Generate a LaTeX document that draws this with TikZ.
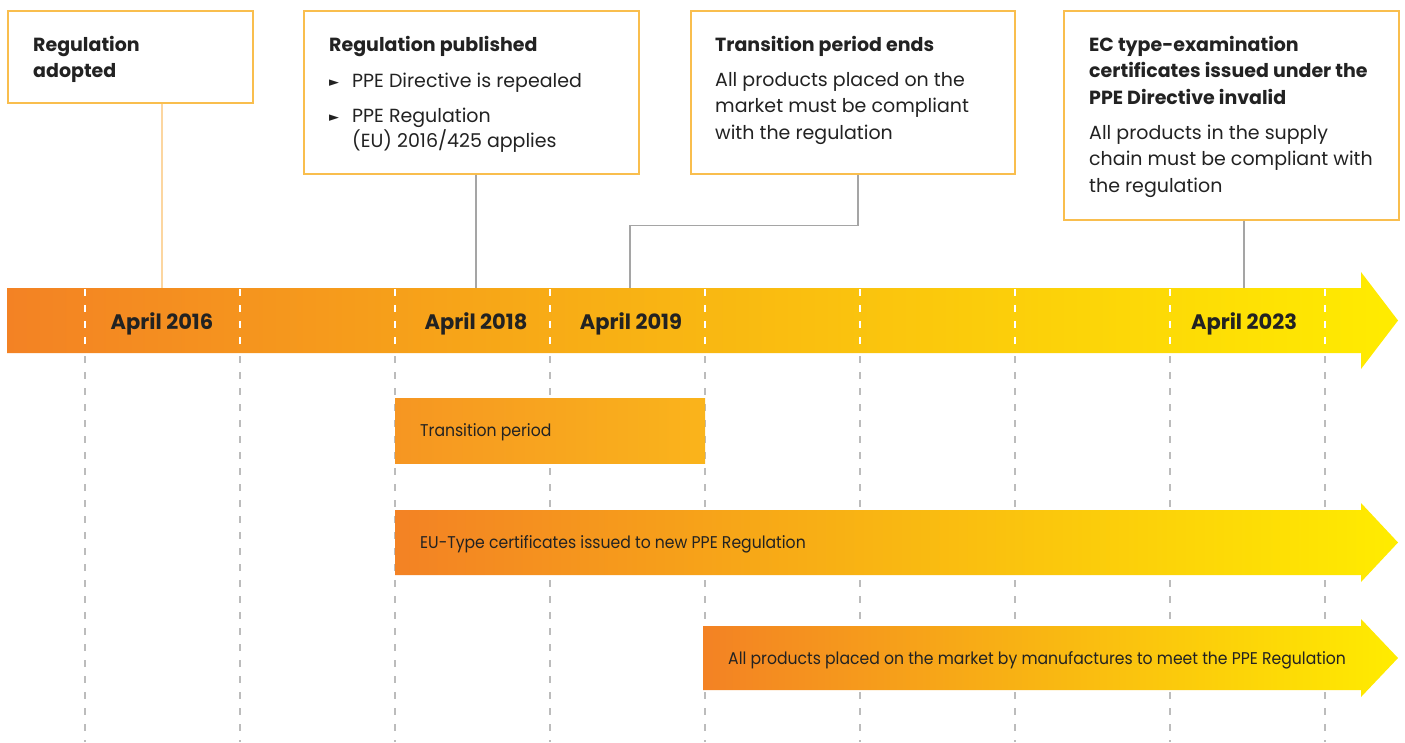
\documentclass[tikz,border=0pt]{standalone}
\usepackage{fontspec}
\setmainfont{Poppins}
\newfontfamily\symfont{DejaVu Sans}
\newfontfamily\barfont[FakeStretch=0.92]{Poppins}
\usetikzlibrary{calc}

\definecolor{ink}{RGB}{34,34,34}
\definecolor{boxline}{RGB}{249,190,78}
\definecolor{paleline}{RGB}{252,214,160}
\definecolor{linkgray}{RGB}{165,165,165}
\definecolor{gridgray}{RGB}{188,188,188}
\definecolor{orangeA}{RGB}{243,130,36}
\definecolor{orangeB}{RGB}{249,172,30}
\definecolor{yellowZ}{RGB}{255,236,0}

% multi-line text whose reference point is the first baseline
\newcommand{\lines}[1]{\begin{tabular}[t]{@{}l@{}}#1\end{tabular}}
\newcommand{\bul}{\makebox[23pt][l]{\raisebox{1pt}{\symfont\fontsize{13}{13}\selectfont ►}}}

\tikzset{
  infobox/.style={draw=boxline, line width=1.5pt, fill=white, anchor=north west, inner sep=0pt},
  title/.style={anchor=base west, inner sep=0pt, font=\fontsize{19}{26.5}\selectfont\bfseries, text=ink},
  body/.style={anchor=base west, inner sep=0pt, font=\fontsize{19}{26.5}\selectfont, text=ink},
  datelabel/.style={anchor=base, inner sep=0pt, font=\fontsize{21}{24}\selectfont\bfseries, text=ink},
  barlabel/.style={anchor=base west, inner sep=0pt, font=\barfont\fontsize{17}{20}\selectfont, text=ink},
  griddash/.style={draw=gridgray, line width=1.3pt, dash pattern=on 7pt off 9pt},
  bardash/.style={draw=white, line width=1.3pt, dash pattern=on 7pt off 9pt},
  link/.style={draw=linkgray, line width=1.3pt},
}

\begin{document}
\begin{tikzpicture}[x=1pt, y=-1pt]
  \useasboundingbox (0,0) rectangle (1405,742);

  % year grid below the timeline
  \foreach \gx in {85,240,395,550,705,860,1015,1170,1325}
    \draw[griddash] (\gx,356) -- (\gx,742);

  % main timeline arrow
  \shade[left color=orangeA, middle color=orangeB, right color=yellowZ]
    (7,288) -- (1361,288) -- (1361,272) -- (1398,320.5) -- (1361,369) -- (1361,353) -- (7,353) -- cycle;
  \coordinate (bartop) at (0,288);
  \foreach \gx in {85,240,395,550,705,860,1015,1170,1325}
    \draw[bardash] (\gx,289) -- (\gx,353);

  % date labels on the timeline
  \node[datelabel] (d16) at (162,329) {April 2016};
  \node[datelabel] (d18) at (476,329) {April 2018};
  \node[datelabel] (d19) at (631,329) {April 2019};
  \node[datelabel] (d23) at (1244,329) {April 2023};

  % period bars
  \shade[left color={rgb,255:red,246;green,150;blue,34}, right color={rgb,255:red,250;green,180;blue,27}]
    (395,398) rectangle (705,463);
  \node[barlabel] (tp) at (420,436) {Transition period};

  \shade[left color=orangeA, middle color=orangeB, right color=yellowZ]
    (395,510) -- (1361,510) -- (1361,503) -- (1398,542.5) -- (1361,582) -- (1361,575) -- (395,575) -- cycle;
  \node[barlabel] (eu) at (420,548) {EU-Type certificates issued to new PPE Regulation};

  \shade[left color=orangeA, middle color=orangeB, right color=yellowZ]
    (703,626) -- (1361,626) -- (1361,619) -- (1398,658) -- (1361,697) -- (1361,690) -- (703,690) -- cycle;
  \node[barlabel] (ap) at (728,664) {All products placed on the market by manufactures to meet the PPE Regulation};

  % milestone boxes
  \node[infobox, minimum width=245pt, minimum height=92pt] (b1) at (7,10) {};
  \node[infobox, minimum width=335pt, minimum height=163pt] (b2) at (303,10) {};
  \node[infobox, minimum width=324pt, minimum height=163pt] (b3) at (690,10) {};
  \node[infobox, minimum width=335pt, minimum height=209pt] (b4) at (1063,10) {};

  \node[title] (t1) at (33,51) {\lines{Regulation\\adopted}};

  \node[title] (t2) at (329,51) {Regulation published};
  \node[body] (p2a) at (329,87) {\bul PPE Directive is repealed};
  \node[body] (p2b) at (329,122) {\bul PPE Regulation};
  \node[body] (p2c) at (352,147) {(EU) 2016/425 applies};

  \node[title] (t3) at (715,51) {Transition period ends};
  \node[body] (p3) at (715,86) {\lines{All products placed on the\\market must be compliant\\with the regulation}};

  \node[title] (t4) at (1089,51) {\lines{EC type-examination\\certificates issued under the\\PPE Directive invalid}};
  \node[body] (p4) at (1089,139) {\lines{All products in the supply\\chain must be compliant with\\the regulation}};

  % connectors from boxes to the timeline
  \coordinate (k3) at ($(b3.south west)+(168,0)$);
  \coordinate (k3bend) at ($(k3)+(0,51)$);
  \coordinate (k3end) at ($(d19 |- bartop)+(-1,0)$);
  \draw[draw=paleline, line width=1.3pt] (b1.south -| d16) -- (d16 |- bartop);
  \draw[link] (b2.south -| d18) -- (d18 |- bartop);
  \draw[link] (k3) -- (k3bend) -| (k3end);
  \draw[link] (b4.south -| d23) -- (d23 |- bartop);
\end{tikzpicture}
\end{document}
